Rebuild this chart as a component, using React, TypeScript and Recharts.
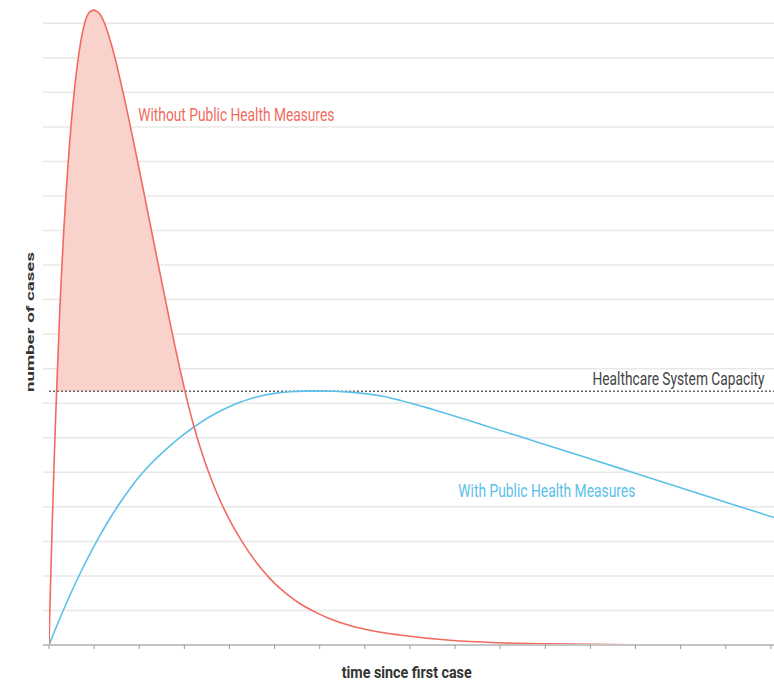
import { Area, CartesianGrid, ComposedChart, Line, ReferenceLine, XAxis, YAxis } from "recharts";

// time since first case (weeks) and number of cases
const withoutT = [0, 0.0155, 0.0377, 0.0599, 0.082, 0.1042, 0.1264, 0.1486, 0.1707, 0.1929, 0.2151, 0.2373, 0.2816, 0.3259, 0.3703, 0.4146, 0.459, 0.5033, 0.5698, 0.6364, 0.7029, 0.7694, 0.8359, 0.9024, 0.9978, 1.0576, 1.1242, 1.235, 1.3459, 1.4568, 1.5676, 1.6785, 1.7894, 1.9002, 2.0111, 2.122, 2.2328, 2.3437, 2.4545, 2.5654, 2.6763, 2.7871, 2.898, 3.0089, 3.1197, 3.2306, 3.3415, 3.4523, 3.5632, 3.6741, 3.7849, 3.8958, 4.0067, 4.2284, 4.4501, 4.6718, 4.8936, 5.1153, 5.337, 5.5588, 5.8914, 6.2239, 6.6674, 7.2217, 7.7761, 8.8847, 9.9933, 11.102, 13.3193, 16.07];
const withoutCases = [0, 0.869, 1.94, 2.954, 3.939, 4.894, 5.792, 6.632, 7.414, 8.167, 8.862, 9.644, 10.86, 11.961, 12.916, 13.785, 14.567, 15.262, 16.16, 16.884, 17.463, 17.897, 18.187, 18.332, 18.381, 18.346, 18.274, 17.984, 17.55, 17.029, 16.421, 15.784, 15.103, 14.408, 13.698, 12.974, 12.25, 11.526, 10.802, 10.085, 9.376, 8.681, 8.015, 7.378, 6.784, 6.248, 5.763, 5.321, 4.916, 4.547, 4.206, 3.895, 3.61, 3.102, 2.653, 2.262, 1.929, 1.645, 1.405, 1.202, 0.959, 0.762, 0.565, 0.4, 0.29, 0.136, 0.064, 0.032, 0.006, 0];

const withT = [0, 0.2373, 0.459, 0.6807, 0.9024, 1.1242, 1.3459, 1.5676, 1.7894, 2.0111, 2.2328, 2.4545, 2.6763, 2.898, 3.1197, 3.3415, 3.5632, 3.7849, 4.0067, 4.2284, 4.4501, 4.6718, 5.0044, 5.337, 5.6696, 6.0022, 6.3348, 6.6674, 7.0, 7.3991, 7.7761, 8.5078, 9.6164, 10.7251, 11.8337, 12.9424, 14.051, 15.1597, 16.0687];
const withCases = [0, 0.759, 1.425, 2.048, 2.627, 3.162, 3.655, 4.104, 4.515, 4.891, 5.213, 5.497, 5.757, 6.001, 6.224, 6.426, 6.609, 6.768, 6.907, 7.026, 7.124, 7.202, 7.284, 7.33, 7.351, 7.356, 7.347, 7.321, 7.278, 7.2, 7.087, 6.82, 6.371, 5.916, 5.459, 4.996, 4.532, 4.069, 3.69];

const weekTicks = [0, 1, 2, 3, 4, 5, 6, 7, 8, 9, 10, 11, 12, 13, 14, 15, 16];
const caseTicks = [0, 1, 2, 3, 4, 5, 6, 7, 8, 9, 10, 11, 12, 13, 14, 15, 16, 17, 18];
const capacity = 7.35;

const RED = "#f26a5f";
const BLUE = "#5bc1e8";

const zip = (t: number[], v: number[]) => t.map((x, i) => ({ t: x, cases: v[i] }));

// part of the red curve above capacity, with the two crossings added
function overCapacity(t: number[], v: number[], cap: number) {
  const out: { t: number; cases: number }[] = [];
  for (let i = 0; i < t.length; i++) {
    if (i > 0 && (v[i - 1] - cap) * (v[i] - cap) < 0) {
      const f = (cap - v[i - 1]) / (v[i] - v[i - 1]);
      out.push({ t: t[i - 1] + f * (t[i] - t[i - 1]), cases: cap });
    }
    if (v[i] >= cap) out.push({ t: t[i], cases: v[i] });
  }
  return out;
}

const withoutData = zip(withoutT, withoutCases);
const withData = zip(withT, withCases);
const excessData = overCapacity(withoutT, withoutCases, capacity);

const font = "Roboto, 'Noto Sans', sans-serif";

export default function App() {
  return (
    <div style={{ position: "absolute", left: 0, top: 0, width: 774, height: 682, background: "#fff" }}>
      <ComposedChart width={774} height={682} margin={{ top: 6, right: 0, left: 43, bottom: 7 }}>
        <CartesianGrid vertical={false} horizontalValues={caseTicks} stroke="#e8e8e8" strokeWidth={1.5} />
        <XAxis
          type="number"
          dataKey="t"
          domain={[0, 16.07]}
          ticks={weekTicks}
          allowDataOverflow
          padding={{ left: 6, right: 0 }}
          tickFormatter={() => ""}
          tickSize={4}
          height={30}
          axisLine={{ stroke: "#c4c4c4", strokeWidth: 2 }}
          tickLine={{ stroke: "#999" }}
        />
        <YAxis type="number" hide domain={[0, 18.5]} ticks={caseTicks} allowDataOverflow />
        <Area
          data={excessData}
          dataKey={(d: { cases: number }) => [capacity, d.cases]}
          type="monotone"
          stroke="none"
          fill="#f9d2cc"
          fillOpacity={1}
          isAnimationActive={false}
        />
        <ReferenceLine
          segment={[{ x: 0, y: capacity }, { x: 16.07, y: capacity }]}
          stroke="#666"
          strokeWidth={1.5}
          strokeDasharray="2 2"
        />
        <Line data={withData} dataKey="cases" type="monotone" stroke={BLUE} strokeWidth={1.6} dot={false} isAnimationActive={false} />
        <Line data={withoutData} dataKey="cases" type="monotone" stroke={RED} strokeWidth={1.6} dot={false} isAnimationActive={false} />
      </ComposedChart>
      <svg width={774} height={682} style={{ position: "absolute", left: 0, top: 0, pointerEvents: "none" }}>
        <text x={138.3} y={121} fontFamily={font} fontSize={17.5} fill={RED} textLength={196} lengthAdjust="spacingAndGlyphs">
          Without Public Health Measures
        </text>
        <text x={764.5} y={385} textAnchor="end" fontFamily={font} fontSize={17.5} fill="#444" textLength={172} lengthAdjust="spacingAndGlyphs">
          Healthcare System Capacity
        </text>
        <text x={458.3} y={496.7} fontFamily={font} fontSize={17.5} fill={BLUE} textLength={177} lengthAdjust="spacingAndGlyphs">
          With Public Health Measures
        </text>
        <text x={341.7} y={678.3} fontFamily={font} fontSize={17} fontWeight="bold" fill="#333" textLength={130} lengthAdjust="spacingAndGlyphs">
          time since first case
        </text>
        <text
          transform="translate(33.5,322) rotate(-90) scale(1,0.68)"
          textAnchor="middle"
          fontFamily={font}
          fontSize={17}
          fontWeight="bold"
          fill="#333"
          textLength={140}
          lengthAdjust="spacingAndGlyphs"
        >
          number of cases
        </text>
      </svg>
    </div>
  );
}
